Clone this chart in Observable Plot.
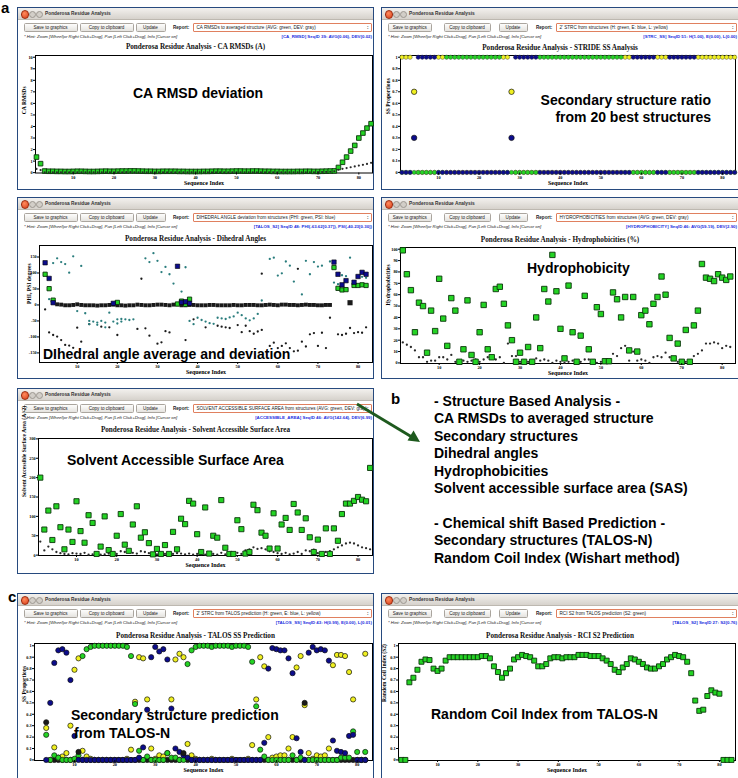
<!DOCTYPE html>
<html>
<head>
<meta charset="utf-8">
<script src="https://cdn.jsdelivr.net/npm/d3@7"></script>
<script src="https://cdn.jsdelivr.net/npm/@observablehq/plot@0.6"></script>
<style>
  html,body{margin:0;padding:0;background:#fff;}
  #root{position:relative;width:738px;height:778px;overflow:hidden;background:#fff;font-family:"Liberation Sans",Arial,sans-serif;}
  .win{position:absolute;box-sizing:border-box;border:1.5px solid #274a7e;background:#fff;overflow:hidden;}
  .win div{position:absolute;white-space:nowrap;}
  .tbar{left:0;top:0;right:0;height:11px;background:linear-gradient(#f3f1ee,#d6d2cc);border-bottom:1px solid #bdb8b0;}
  .close{left:2.5px;top:2px;width:6.5px;height:6.5px;border-radius:50%;background:radial-gradient(circle at 40% 35%,#ff8a5c,#d8401c);border:0.5px solid #9c2d12;}
  .mini{top:2.7px;width:5px;height:5px;border-radius:50%;background:#d2cec8;border:0.5px solid #9d9891;}
  .wtitle{left:27px;top:0;line-height:11px;font-weight:bold;font-size:4.8px;color:#333;}
  .btn{top:15px;height:9px;line-height:8.5px;box-sizing:border-box;border:0.6px solid #aaa59e;border-radius:1.5px;background:linear-gradient(#fdfdfc,#e5e3df);font-size:4.6px;color:#222;text-align:center;}
  .rep{top:15px;line-height:9px;font-size:4.6px;font-weight:bold;color:#222;}
  .drop{top:15px;height:9px;line-height:7.5px;box-sizing:border-box;border:0.8px solid #e0805f;border-radius:1px;background:#fff;font-size:4.6px;color:#222;padding-left:3px;overflow:hidden;}
  .dart{right:2px;top:0;font-weight:bold;}
  .hint{top:25.5px;left:6px;font-size:4.3px;font-style:italic;color:#222;line-height:5px;}
  .info{top:25.5px;right:1px;font-size:4.4px;color:#1d2fe0;line-height:5px;font-weight:bold;}
  .ctitle{position:absolute;text-align:center;font-family:"Liberation Serif","Times New Roman",serif;font-weight:bold;font-size:7.2px;line-height:9px;color:#111;white-space:nowrap;}
  .big{position:absolute;font-family:"Liberation Sans",Arial,sans-serif;font-weight:bold;font-size:14px;line-height:16px;color:#000;white-space:nowrap;}
  .lab{position:absolute;font-family:"Liberation Sans",Arial,sans-serif;font-weight:bold;font-size:15px;line-height:16px;color:#000;}
  #btext{position:absolute;left:434px;top:393px;font-family:"Liberation Sans",Arial,sans-serif;font-weight:bold;font-size:14px;line-height:17.4px;color:#000;white-space:pre;}
</style>
</head>
<body>
<div id="root"></div>
<script>
// ------------------------------------------------------------------ DATA
const seqTicks = [10, 20, 30, 40, 50, 60, 70, 80];

// CA RMSD (residues 1..83)
const rmsdAvg = [1.35,0.78,
  0.14,0.12,0.12,0.11,0.11,0.10,0.10,0.11,0.12,0.12,
  0.11,0.10,0.10,0.11,0.12,0.13,0.12,0.12,0.13,0.14,
  0.14,0.15,0.15,0.14,0.13,0.12,0.12,0.11,0.11,0.12,
  0.12,0.12,0.12,0.11,0.11,0.10,0.10,0.10,0.10,0.11,
  0.11,0.12,0.13,0.13,0.12,0.12,0.13,0.14,0.14,0.13,
  0.13,0.14,0.14,0.13,0.12,0.12,0.11,0.11,0.10,0.10,
  0.10,0.10,0.11,0.11,0.12,0.12,0.11,0.11,0.12,0.13,
  0.14,0.15,
  0.45,0.90,1.35,1.87,2.36,3.00,3.43,3.86,4.24];
const rmsdDev = [0.32,0.22,
  0.03,0.03,0.02,0.02,0.03,0.03,0.02,0.02,0.03,0.03,
  0.03,0.02,0.02,0.03,0.03,0.03,0.02,0.02,0.03,0.03,
  0.04,0.04,0.03,0.03,0.03,0.02,0.02,0.02,0.03,0.03,
  0.03,0.03,0.02,0.02,0.02,0.02,0.03,0.03,0.03,0.03,
  0.02,0.02,0.03,0.03,0.03,0.02,0.02,0.03,0.03,0.03,
  0.03,0.02,0.02,0.02,0.03,0.03,0.03,0.02,0.02,0.02,
  0.03,0.03,0.03,0.02,0.02,0.03,0.03,0.04,0.05,0.06,
  0.08,0.12,
  0.25,0.33,0.40,0.47,0.54,0.61,0.68,0.76,0.85];

// STRIDE SS proportions (residues 1..83)
const strideH = [0,0,0,0,0,0,0,0,0,0,0, 1,1,1,1,1,1,1,1,1,1,1,1,1,1, 0,0,0, 0,0,0,0,0,0,
  1,1,1,1,1,1,1,1,1,1,1,1,1,1,1,1,1,1,1,1,1, 0,0, 0,0,0,0,0,0, 0,0,0, 0,0,0,0,0,0,0, 0,0,0,0,0,0,0,0,0,0];
const strideE = [0,0,0,0.3,1,1,1,1,1,0,0, 0,0,0,0,0,0,0,0,0,0,0,0,0,0, 0,0,0.3, 1,1,1,1,1,1,
  0,0,0,0,0,0,0,0,0,0,0,0,0,0,0,0,0,0,0,0,0, 0,0, 1,1,1,1,1,1, 0,0,0, 1,1,1,1,1,1,1, 0,0,0,0,0,0,0,0,0,0];
const strideL = [1,1,1,0.7,0,0,0,0,0,1,1, 0,0,0,0,0,0,0,0,0,0,0,0,0,0, 1,1,0.7, 0,0,0,0,0,0,
  0,0,0,0,0,0,0,0,0,0,0,0,0,0,0,0,0,0,0,0,0, 1,1, 0,0,0,0,0,0, 1,1,1, 0,0,0,0,0,0,0, 1,1,1,1,1,1,1,1,1,1];
const ssClasses = ["H", "E", "L"];

// Dihedral angles
const dihRowY = [2,1,-1,-1,0,2,0,-1,-1,-1, -2,-1,-1,0,1,-1,-1,-2,-1,-1, 1,0,-1,-1,0,1,1,0,-1,1,
  2,-1,-1,0,0,-1,-1,-1,0,0, -1,-1,-1,-1,0,-1,-1,0,0,0, -1,-1,0,1,0,-1,1,1,0,0, -1,0,1,0,0,-1,-1,0,0]; // residues 5..73
const dihRowStart = 5;
const dihBigX = [78], dihBigY = [7];
const dihPhiX = [2,3,4,20,35,36,37,38,74,75,76,77,79,80,81,82];
const dihPhiY = [96,51,15,8,3,12,2,18,117,52,47,48,61,61,63,61];
const dihPsiX = [2,3,4,19,35,36,37,38,74,75,76,77,79,80,81,82];
const dihPsiY = [132,83,7,5,121,8,10,5,134,96,63,76,71,89,102,96];
const dihTealX = [3, 4,5,6,7,8,9,11, 27,28,29,30,31,32,33,34,36,37, 56,
  58,59,60,61,62,63,64,66,67,68,69,70,71,73,74,75,76,77,78,80,81,82,
  10,12,13,13,14,15,15,16,17,17,18,19,20,20,21,21,22,23,24,
  38,39,40,41,42,43,44,45,46,47,48,49,50,51,52,53,54,55];
const dihTealY = [18, 131,146,134,128,101,152,122, 146,134,162,138,103,119,96,67,42,118, 14,
  144,148,92,99,136,123,73,33,138,96,134,120,123,136,70,65,93,90,148,92,88,85,
  -19,-26,-50,-60,-52,-62,-55,-50,-70,-55,-24,-52,-58,-45,-44,-52,-45,-47,-45,
  -50,-60,-40,-47,-52,-57,-59,-40,-42,-44,-39,-36,-24,-32,-42,-48,-42,-28];
const dihDotX = [2,3,4,5,6,7,8,9,10,11, 13,16,18,20,25,27,28,30,31,32,33,37, 26,56,65,
  39,42,45,46,47,48,50,51,52,53,54,55,56,
  58,59,60,61,62,63,64,65,66,67,68,69,70,71,72,73, 75,76,77,78,79,80,81,82];
const dihDotY = [-14,-86,-94,-99,-110,-125,-127,-134,-71,-115, -60,-68,-70,-94,-75,-73,-96,-121,-117,-82,-86,-110, 82,98,113,
  -45,-70,-65,-68,-70,-72,-63,-85,-65,-82,-90,-83,-78,
  -128,-118,-135,-128,-120,-135,-145,-143,-115,-130,-92,-88,-128,-87,-135,-40, -92,-94,-90,-72,-88,-85,-87,-70];

// Hydrophobicities (residues 1..82)
const hydAvg = [99,78,64,27,53,50,9,46,28,74, 39,15,57,46,1,12,55,7,1,27, 51,12,5,65,67,52,33,20,1,9,
  1,14,1,40,13,65,54,95,63,30, 4,68,27,1,24,59,12,1,49,43, 1.5,1.5,62,56,40,58,11,58,10,42,
  46,34,52,58,76,60,22,4,17,1, 29,1,33,46,87,75,74,72,78,75, 73,76];
const hydDev = [18,16,14,11,5,5,1,2,2,5, 5,3,7,1,1,2,1,2,3,1, 3,5,6,3,5,0,17,6,6,1,
  2,1,0,4,2,3,2,0,2,1, 0,1,2,1,1,3,3,2,0,1, 1,0,8,6,13,15,2,10,2,3,
  2,0,5,6,5,9,5,3,1,2, 1,1,6,8,11,17,17,18,17,13, 15,14];

// Solvent accessible surface area (residues 1..83)
const sasAvg = [200,66,115,39,126,72,15,66,34,139, 62,32,103,83,3,22,100,13,3,50,
  106,27,11,79,126,45,59,31,2,16, 3,26,3,60,15,94,80,140,133,54,
  8,123,4,50,45,142,19,3,3,90, 67,4,8,130,116,58,50,17,108,17,
  79,96,65,132,110,65,95,46,8,40, 3,69,3,69,37,106,133,133,140,150, 143,139,225];
const sasDev = [35,12,22,15,8,5,3,2,5,4, 3,6,1,2,3,1,2,4,2,3, 10,8,12,6,4,10,8,5,3,2,
  5,3,1,3,5,4,2,4,1,3, 2,1,2,3,1,6,2,1,4,6, 3,12,15,20,16,18,15,10,8,5,
  3,6,2,4,8,3,12,10,14,5, 4,8,10,15,20,25,30,32,30,25, 20,18,15];

// TALOS SS prediction (residues 1..83; null = no prediction)
const talosH = [null,null, .22,0,.04,.02,0,0,0,.01, .04,.91,.97,.99,1,1,1,1,1,1,
  1,1,.99,.91,.49,.08,0,.03,0,0, 0,0,.06,.02,.02,0,0,.84,.96,.99,
  1,1,1,.99,1,1,1,1,.99,1, 1,1,.99,.86,.47,.09,.03,0,0,0,
  0,0,0,.04,0,.02,0,0,0,0, 0,0,0,0,0,.02,.02,.02,.25,.07, 0,.07,null];
const talosE = [null,null, 0,.50,.85,.96,.97,.94,.70,.21, 0,0,0,0,0,0,0,0,0,0,
  0,0,0,0,0,.02,.11,.44,.90,.99, .95,.97,.88,.45,.10,.07,.04,.02,0,0,
  0,0,0,0,0,0,0,0,0,0, 0,0,0,0,0,0,.15,.80,.98,.97,
  .96,.96,.89,.76,.19,.07,0,.94,.99,.96, .97,.96,.87,.17,.08,.07,.06,.21,.22,0, 0,0,null];
const talosL = [null,null, .28,0,.11,.02,.03,.06,.30,.79, .89,.08,.03,.01,0,0,0,0,0,0,
  0,0,.01,.09,.51,.90,.89,.53,.10,.01, .04,.03,.06,.53,.88,.93,.90,.14,.04,.01,
  0,0,0,.01,0,0,0,0,.01,0, 0,0,.01,.13,.53,.90,.82,.20,.02,.03,
  .04,.04,.10,.20,.81,.91,.48,.06,.01,.04, .03,.04,.10,.83,.92,.92,.91,.77,.53,0, 0,.93,null];
const talosX = [null,null, .33,0,0,0,0,0,0,0, .07,0,0,0,0,0,0,0,0,0,
  0,0,0,0,0,0,0,0,0,0, 0,0,0,0,0,0,.06,0,0,0,
  0,0,0,0,0,0,0,0,0,0, 0,0,0,0,0,0,0,0,0,0,
  0,0,0,0,0,0,.50,0,0,0, 0,0,0,0,0,0,0,0,0,0, 0,0,null];

// RCI S2 (residues 1..83)
const rciS2 = [0,0,.68,.72,.79,.86,.88,.875,.80,.78, .80,.87,.90,.90,.90,.90,.90,.90,.90,.90,
  .91,.91,.89,.82,.77,.72,.76,.80,.88,.90, .92,.91,.90,.87,.82,.82,.84,.89,.90,.90,
  .89,.90,.90,.90,.92,.92,.92,.91,.91,.91, .89,.87,.84,.79,.77,.81,.84,.89,.88,.86,
  .84,.81,.80,.80,.82,.84,.88,.90,.92,.91, .90,.86,.76,.52,.43,.44,.56,.61,.59,.58, 0,0,0];

const ssTicks = [0,0.1,0.2,0.3,0.4,0.5,0.6,0.7,0.8,0.9,1];

// ------------------------------------------------------------------ STYLE
const GREEN = "#24d424", GSTROKE = "#0b360b", NAVY = "#0c0c8c", YELLOW = "#f0f020", TEAL = "#2a7d7d", DARK = "#1a1a1a";
const SERIF = '"Liberation Serif","Times New Roman",serif';
const root = document.getElementById("root");

function mk(tag, cls, parent, text) {
  const e = document.createElement(tag);
  if (cls) e.className = cls;
  if (text != null) e.textContent = text;
  (parent || root).appendChild(e);
  return e;
}
function px(e, s) { for (const k in s) e.style[k] = typeof s[k] === "number" ? s[k] + "px" : s[k]; return e; }

const HINT = "* Hint: Zoom [Wheel|or Right Click+Drag], Pan [Left Click+Drag], Info [Cursor on]";
function windowChrome(c) {
  const w = px(mk("div", "win"), {left: c.x, top: c.y, width: c.w, height: c.h});
  mk("div", "tbar", w);
  mk("div", "close", w);
  px(mk("div", "mini", w), {left: 11});
  px(mk("div", "mini", w), {left: 17.5});
  mk("div", "wtitle", w, "Ponderosa Residue Analysis");
  const L = c.side === "L";
  const b = L ? [[5.5, 54, "Save to graphics"], [61.5, 54, "Copy to clipboard"], [117.5, 30, "Update"]]
              : [[5.5, 44.5, "Save to graphics"], [61.5, 47, "Copy to clipboard"], [116.5, 29, "Update"]];
  for (const [l, ww, t] of b) px(mk("div", "btn", w, t), {left: l, width: ww});
  px(mk("div", "rep", w, "Report:"), {left: L ? 155 : 154});
  const d = px(mk("div", "drop", w, c.report), {left: L ? 174.5 : 173.5, width: c.w - (L ? 178 : 177)});
  px(mk("div", "dart", d, ":"), {});
  mk("div", "hint", w, HINT);
  mk("div", "info", w, c.info);
  px(mk("div", "ctitle", null, c.title), {left: c.x, width: c.w, top: c.ty - 4.5});
}

function chart(f, marks) {
  const mL = 24, mR = 5, mT = 5, mB = 18;
  const w = f.R - f.L, h = f.B - f.T;
  const svg = Plot.plot({
    width: w + mL + mR, height: h + mT + mB,
    marginLeft: mL, marginRight: mR, marginTop: mT, marginBottom: mB,
    x: {type: "linear", domain: f.xd},
    y: {type: "linear", domain: f.yd},
    color: {type: "ordinal", domain: ssClasses, range: [GREEN, NAVY, YELLOW]},
    style: {fontFamily: SERIF, fontSize: "4.3px", fontWeight: "bold", background: "transparent", color: "#000", overflow: "visible"},
    marks: [
      Plot.frame({stroke: "#000", strokeWidth: 1}),
      ...marks,
      Plot.axisX({ticks: seqTicks, tickSize: 2, tickPadding: 0.5, label: null, tickFormat: d => String(d)}),
      Plot.axisY({ticks: f.yt, tickSize: 2, tickPadding: 0.8, label: null, tickFormat: f.fmt}),
      Plot.text(["Sequence Index"], {text: d => d, frameAnchor: "bottom", dy: 11.5, fontSize: 6, fontWeight: "bold"}),
      Plot.text([f.yl], {text: d => d, frameAnchor: "left", rotate: -90, dx: f.yldx, fontSize: 5.6, fontWeight: "bold"})
    ]
  });
  svg.style.position = "absolute";
  svg.style.left = (f.L - mL) + "px";
  svg.style.top = (f.T - mT) + "px";
  root.appendChild(svg);
}
const fmtInt = d => String(d);
const fmtSS = d => String(+d.toFixed(1));
const idx = arr => d3.range(arr.length);
const sq = (arr, r) => Plot.dot(idx(arr), {x: i => i + 1, y: i => arr[i], symbol: "square", r, fill: GREEN, stroke: GSTROKE, strokeWidth: 0.9});
const dev = (arr, r) => Plot.dot(idx(arr), {x: i => i + 1, y: i => arr[i], r, fill: "#2a2a2a"});

// ------------------------------------------------------------------ WINDOWS
const wins = [
  {x: 17, y: 7, w: 357, h: 183, side: "L", ty: 47.7, report: "CA RMSDs to averaged structure (AVG: green, DEV: gray)", info: "[CA_RMSD] SeqID 39: AVG(0.06), DEV(0.02)", title: "Ponderosa Residue Analysis - CA RMSDs (A)"},
  {x: 381, y: 7, w: 358, h: 183, side: "R", ty: 48, report: "2' STRC from structures (H: green, E: blue, L: yellow)", info: "[STRC_SS] SeqID 51: H(1.00), E(0.00), L(0.00)", title: "Ponderosa Residue Analysis - STRIDE SS Analysis"},
  {x: 17, y: 197, w: 357, h: 182, side: "L", ty: 239.7, report: "DIHEDRAL ANGLE deviation from structures (PHI: green, PSI: blue)", info: "[TALOS_S2] SeqID 48: PHI(-63.62[0.37]), PSI(-40.23[0.30])", title: "Ponderosa Residue Analysis - Dihedral Angles"},
  {x: 381, y: 197, w: 358, h: 182, side: "R", ty: 240, report: "HYDROPHOBICITIES from structures (AVG: green, DEV: gray)", info: "[HYDROPHOBICITY] SeqID 46: AVG(59.19), DEV(2.90)", title: "Ponderosa Residue Analysis - Hydrophobicities (%)"},
  {x: 17, y: 388, w: 357, h: 186, side: "L", ty: 430.7, report: "SOLVENT ACCESSIBLE SURFACE AREA from structures (AVG: green, DEV: gray)", info: "[ACCESSIBLE_AREA] SeqID 46: AVG(142.64), DEV(6.99)", title: "Ponderosa Residue Analysis - Solvent Accessible Surface Area"},
  {x: 17, y: 593, w: 357, h: 186, side: "L", ty: 636, report: "2' STRC from TALOS prediction (H: green, E: blue, L: yellow)", info: "[TALOS_SS] SeqID 43: H(0.99), E(0.00), L(0.01)", title: "Ponderosa Residue Analysis - TALOS SS Prediction"},
  {x: 381, y: 593, w: 358, h: 186, side: "R", ty: 636, report: "RCI S2 from TALOS prediction (S2: green)", info: "[TALOS_S2] SeqID 27: S2(0.76)", title: "Ponderosa Residue Analysis - RCI S2 Prediction"}
];
wins.forEach(windowChrome);

// ------------------------------------------------------------------ CHARTS
// CA RMSD
chart({L: 35, R: 372, T: 55, B: 172.5, xd: [0.76, 83.35], yd: [-0.03, 10.15], yt: d3.range(0, 11), fmt: fmtInt, yl: "CA RMSDs", yldx: -11.5},
  [sq(rmsdAvg, 2.6), dev(rmsdDev, 1.1)]);

// STRIDE: long table (residue, class, proportion); drawn L first, then H, then E
{
  const recs = [];
  for (const [s, arr] of [["L", strideL], ["H", strideH], ["E", strideE]])
    arr.forEach((v, k) => recs.push({res: k + 1, cls: s, p: v}));
  const whole = recs.filter(d => d.p === 0 || d.p === 1);
  const part = recs.filter(d => d.p > 0 && d.p < 1);
  chart({L: 400, R: 735, T: 55, B: 172.5, xd: [0.64, 83.2], yd: [-0.005, 1.015], yt: ssTicks, fmt: fmtSS, yl: "SS Proportions", yldx: -12.5},
  [
    Plot.dot(whole, {x: "res", y: "p", fill: "cls", r: 2.15, stroke: "#333", strokeWidth: 0.4}),
    Plot.dot(part, {x: "res", y: "p", fill: "cls", r: 2.7, stroke: "#111", strokeWidth: 0.7})
  ]);
}

// Dihedral
{
  const rowIdx = idx(dihRowY);
  chart({L: 39, R: 372, T: 245, B: 362, xd: [0.6, 83.6], yd: [-180, 186], yt: [-150, -100, -50, 0, 50, 100, 150], fmt: fmtInt, yl: "PHI, PSI degrees", yldx: -10.5},
  [
    Plot.dot(idx(dihDotX), {x: i => dihDotX[i], y: i => dihDotY[i], r: 1.15, fill: DARK}),
    Plot.dot(idx(dihTealX), {x: i => dihTealX[i], y: i => dihTealY[i], r: 1.15, fill: TEAL}),
    Plot.dot(rowIdx, {x: i => i + dihRowStart, y: i => dihRowY[i], symbol: "square", r: 2.2, fill: DARK}),
    Plot.dot(idx(dihBigX), {x: i => dihBigX[i], y: i => dihBigY[i], symbol: "square", r: 2.9, fill: DARK}),
    Plot.dot(idx(dihPhiX), {x: i => dihPhiX[i], y: i => dihPhiY[i], symbol: "square", r: 2.4, fill: GREEN, stroke: GSTROKE, strokeWidth: 0.9}),
    Plot.dot(idx(dihPsiX), {x: i => dihPsiX[i], y: i => dihPsiY[i], symbol: "square", r: 2.5, fill: NAVY, stroke: "#000", strokeWidth: 0.6})
  ]);
}

// Hydrophobicity
chart({L: 400, R: 735, T: 247, B: 363, xd: [0.43, 83.3], yd: [-0.5, 101.5], yt: d3.range(0, 101, 10), fmt: fmtInt, yl: "Hydrophobicities", yldx: -12.5},
  [dev(hydDev, 1.15), sq(hydAvg, 3.05)]);

// SAS
chart({L: 38, R: 372, T: 438, B: 555, xd: [0.55, 83.6], yd: [-1, 301], yt: d3.range(0, 301, 50), fmt: fmtInt, yl: "Solvent Accessible Surface Area (A^2)", yldx: -14.5},
  [dev(sasDev, 1.15), sq(sasAvg, 2.9)]);

// TALOS
{
  const ids = d3.range(1, talosH.length + 1);
  const ok = a => ids.filter(i => a[i - 1] != null);
  const dot = (a, c, list) => Plot.dot(list, {x: i => i, y: i => a[i - 1], r: 2.6, fill: c, stroke: "#111", strokeWidth: 0.7});
  chart({L: 34, R: 372, T: 643, B: 760, xd: [0.1, 83.8], yd: [-0.005, 1.02], yt: ssTicks, fmt: fmtSS, yl: "SS Proportions", yldx: -10.5},
  [
    dot(talosX, DARK, ok(talosX).filter(i => talosX[i - 1] === 0)),
    dot(talosL, YELLOW, ok(talosL)),
    dot(talosH, GREEN, ok(talosH)),
    dot(talosE, NAVY, ok(talosE)),
    dot(talosX, DARK, ok(talosX).filter(i => talosX[i - 1] > 0))
  ]);
}

// RCI
chart({L: 398, R: 735, T: 643, B: 760, xd: [0.3, 84.0], yd: [-0.005, 1.02], yt: ssTicks, fmt: fmtSS, yl: "Random Coil Index (S2)", yldx: -14},
  [sq(rciS2, 2.8)]);

// ------------------------------------------------------------------ ANNOTATIONS
function big(text, x, cy, right) {
  const e = mk("div", "big", null, text);
  e.style.top = (cy - 8) + "px";
  if (right) { e.style.right = (738 - x) + "px"; e.style.textAlign = "right"; } else e.style.left = x + "px";
}
big("CA RMSD deviation", 133, 93);
big("Secondary structure ratio", 711, 100, true);
big("from 20 best structures", 711, 117.3, true);
big("Hydrophobicity", 527, 268);
big("DIhedral angle average and deviation", 43, 354);
big("Solvent Accessible Surface Area", 67, 460);
big("Secondary structure prediction", 71, 715);
big(" from TALOS-N", 74, 733);
big("Random Coil Index from TALOS-N", 431, 714);

px(mk("div", "lab", null, "a"), {left: 1, top: 0});
px(mk("div", "lab", null, "b"), {left: 391, top: 391});
px(mk("div", "lab", null, "c"), {left: 8, top: 589});

const bLines = ["- Structure Based Analysis -", "CA RMSDs to averaged structure", "Secondary structures", "Dihedral angles",
  "Hydrophobicities", "Solvent accessible surface area (SAS)", "", "- Chemical shift Based Prediction -",
  "Secondary structures (TALOS-N)", "Random Coil Index (Wishart method)"];
const bt = mk("div", null, null, bLines.join("\n"));
bt.id = "btext";

// arrow
const NS = "http://www.w3.org/2000/svg";
const as = document.createElementNS(NS, "svg");
as.setAttribute("width", 738); as.setAttribute("height", 778);
as.style.position = "absolute"; as.style.left = "0px"; as.style.top = "0px"; as.style.pointerEvents = "none";
const ln = document.createElementNS(NS, "line");
ln.setAttribute("x1", 357); ln.setAttribute("y1", 404); ln.setAttribute("x2", 411); ln.setAttribute("y2", 436.5);
ln.setAttribute("stroke", "#1e5a1e"); ln.setAttribute("stroke-width", 2.8);
const hd = document.createElementNS(NS, "polygon");
hd.setAttribute("points", "420,442 407.5,440.5 413.5,430.5");
hd.setAttribute("fill", "#1e5a1e");
as.appendChild(ln); as.appendChild(hd);
root.appendChild(as);
</script>
</body>
</html>
